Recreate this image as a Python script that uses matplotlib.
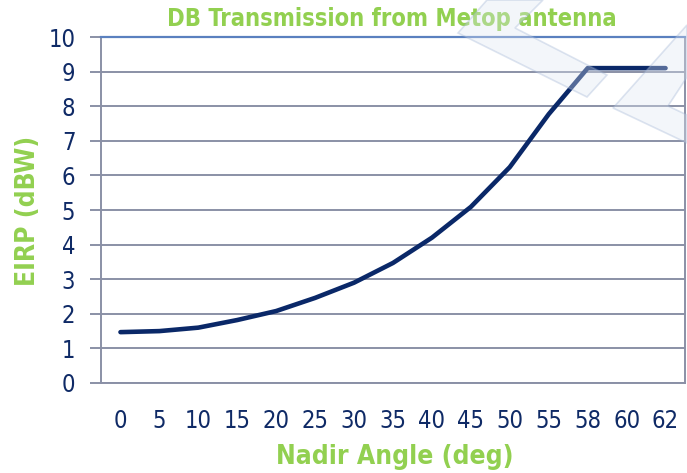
import matplotlib
matplotlib.use("Agg")
import matplotlib.pyplot as plt
from matplotlib import font_manager
from matplotlib.patches import Polygon

# Data
angles = ["0", "5", "10", "15", "20", "25", "30", "35", "40", "45", "50", "55", "58", "60", "62"]
eirp = [1.47, 1.5, 1.6, 1.82, 2.08, 2.46, 2.9, 3.47, 4.2, 5.09, 6.24, 7.77, 9.1, 9.1, 9.1]
yticks = [0, 1, 2, 3, 4, 5, 6, 7, 8, 9, 10]

title = "DB Transmission from Metop antenna"
xlabel = "Nadir Angle (deg)"
ylabel = "EIRP (dBW)"

# font choice
names = {(f.name, f.stretch) for f in font_manager.fontManager.ttflist}
cond = any(n == "DejaVu Sans" and s in ("condensed", "semi-condensed") for n, s in names)
if cond:
    FAM = "DejaVu Sans"
    STRETCH = "condensed"
else:
    FAM = "Liberation Sans"
    STRETCH = "normal"

plt.rcParams["font.family"] = [FAM, "DejaVu Sans"]
plt.rcParams["font.stretch"] = STRETCH

W, H = 687, 473
fig = plt.figure(figsize=(W / 100, H / 100), dpi=100)
fig.patch.set_facecolor("white")

L, R, T, B = 101, 685, 37, 383
ax = fig.add_axes([L / W, 1 - B / H, (R - L) / W, (B - T) / H])

navy = "#0f2a66"
green = "#92d050"
grid = "#8a90a6"

x = list(range(len(angles)))
ax.plot(x, eirp, color="#0a2868", lw=3.3, solid_capstyle="round", solid_joinstyle="round", zorder=3)

ax.set_xlim(-0.5, len(angles) - 0.5)
ax.set_ylim(0, 10)
ax.set_yticks(yticks)
ax.set_xticks(x)
ax.set_xticklabels(angles)
ax.yaxis.grid(True, color=grid, lw=1.4)
ax.set_axisbelow(True)

for s in ["left", "bottom", "right"]:
    ax.spines[s].set_color(grid)
    ax.spines[s].set_linewidth(1.4)
ax.spines["top"].set_color("#5a80bf")
ax.spines["top"].set_linewidth(1.6)

ax.tick_params(axis="y", direction="out", length=8, width=1.4, color=grid,
               labelsize=17, labelcolor=navy, pad=10.5)
ax.tick_params(axis="x", length=0, labelsize=17, labelcolor=navy, pad=19)

fig.text(392 / W, 1 - 19 / H, title, ha="center", va="center", color=green,
         fontsize=17, fontweight="bold")
fig.text(395 / W, 1 - 457 / H, xlabel, ha="center", va="center", color=green,
         fontsize=19, fontweight="bold")
fig.text(28 / W, 1 - 211 / H, ylabel, ha="center", va="center", color=green,
         fontsize=19, fontweight="bold", rotation=90)

# faint watermark chevrons
def P(pts):
    return [(px / W, 1 - py / H) for px, py in pts]

shapeA = [(487, 0), (458, 33), (587, 97), (607, 75), (515, 28), (543, 0)]
shapeB = [(687, 25), (613, 108), (687, 143), (687, 115), (668, 106), (687, 77)]
for sh in (shapeA, shapeB):
    fig.patches.append(Polygon(P(sh), closed=True, transform=fig.transFigure,
                               facecolor="#dfe7f3", edgecolor="#9fb3d4", lw=1.2,
                               alpha=0.35, zorder=10))

fig.savefig("out.png", dpi=100)
